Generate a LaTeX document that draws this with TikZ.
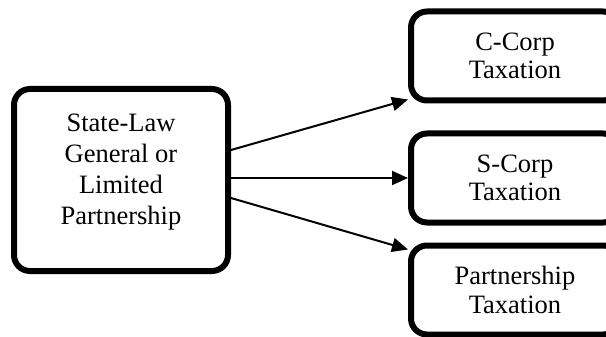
\documentclass[tikz,border=0pt]{standalone}
\usepackage{fontspec}
\setmainfont{Liberation Serif}
\usetikzlibrary{arrows.meta}
\tikzset{
	roundbox/.style={draw=black, line width=6pt, rounded corners=16pt, fill=white},
	taxbox/.style={roundbox, align=center, minimum width=208pt, minimum height=89pt, font=\fontsize{26.5}{28.5}\selectfont},
	flow/.style={black, line width=2pt, -{Triangle[length=16pt,width=14pt]}}
}
\begin{document}
\begin{tikzpicture}[x=1pt, y=-1pt]
		\useasboundingbox (0,0) rectangle (606,337);
		\node[roundbox, minimum width=214pt, minimum height=182pt] (state) at (121,180){};
		\node[align=center, font=\fontsize{26.5}{31}\selectfont] (statetext) at ([yshift=8pt]state.center){State-Law\\General or\\Limited\\Partnership};
		\node[taxbox] (ccorp) at (515,56){C-Corp\\Taxation};
		\node[taxbox] (scorp) at (515,178){S-Corp\\Taxation};
		\node[taxbox] (ptax) at (515,290){Partnership\\Taxation};
		\draw[flow] ([yshift=30pt]state.east) -- ([yshift=4pt]ccorp.south west);
		\draw[flow] (state.east |- scorp.west) -- (scorp.west);
		\draw[flow] ([yshift=-18pt]state.east) -- ([yshift=-7pt]ptax.north west);
	\end{tikzpicture}
\end{document}
